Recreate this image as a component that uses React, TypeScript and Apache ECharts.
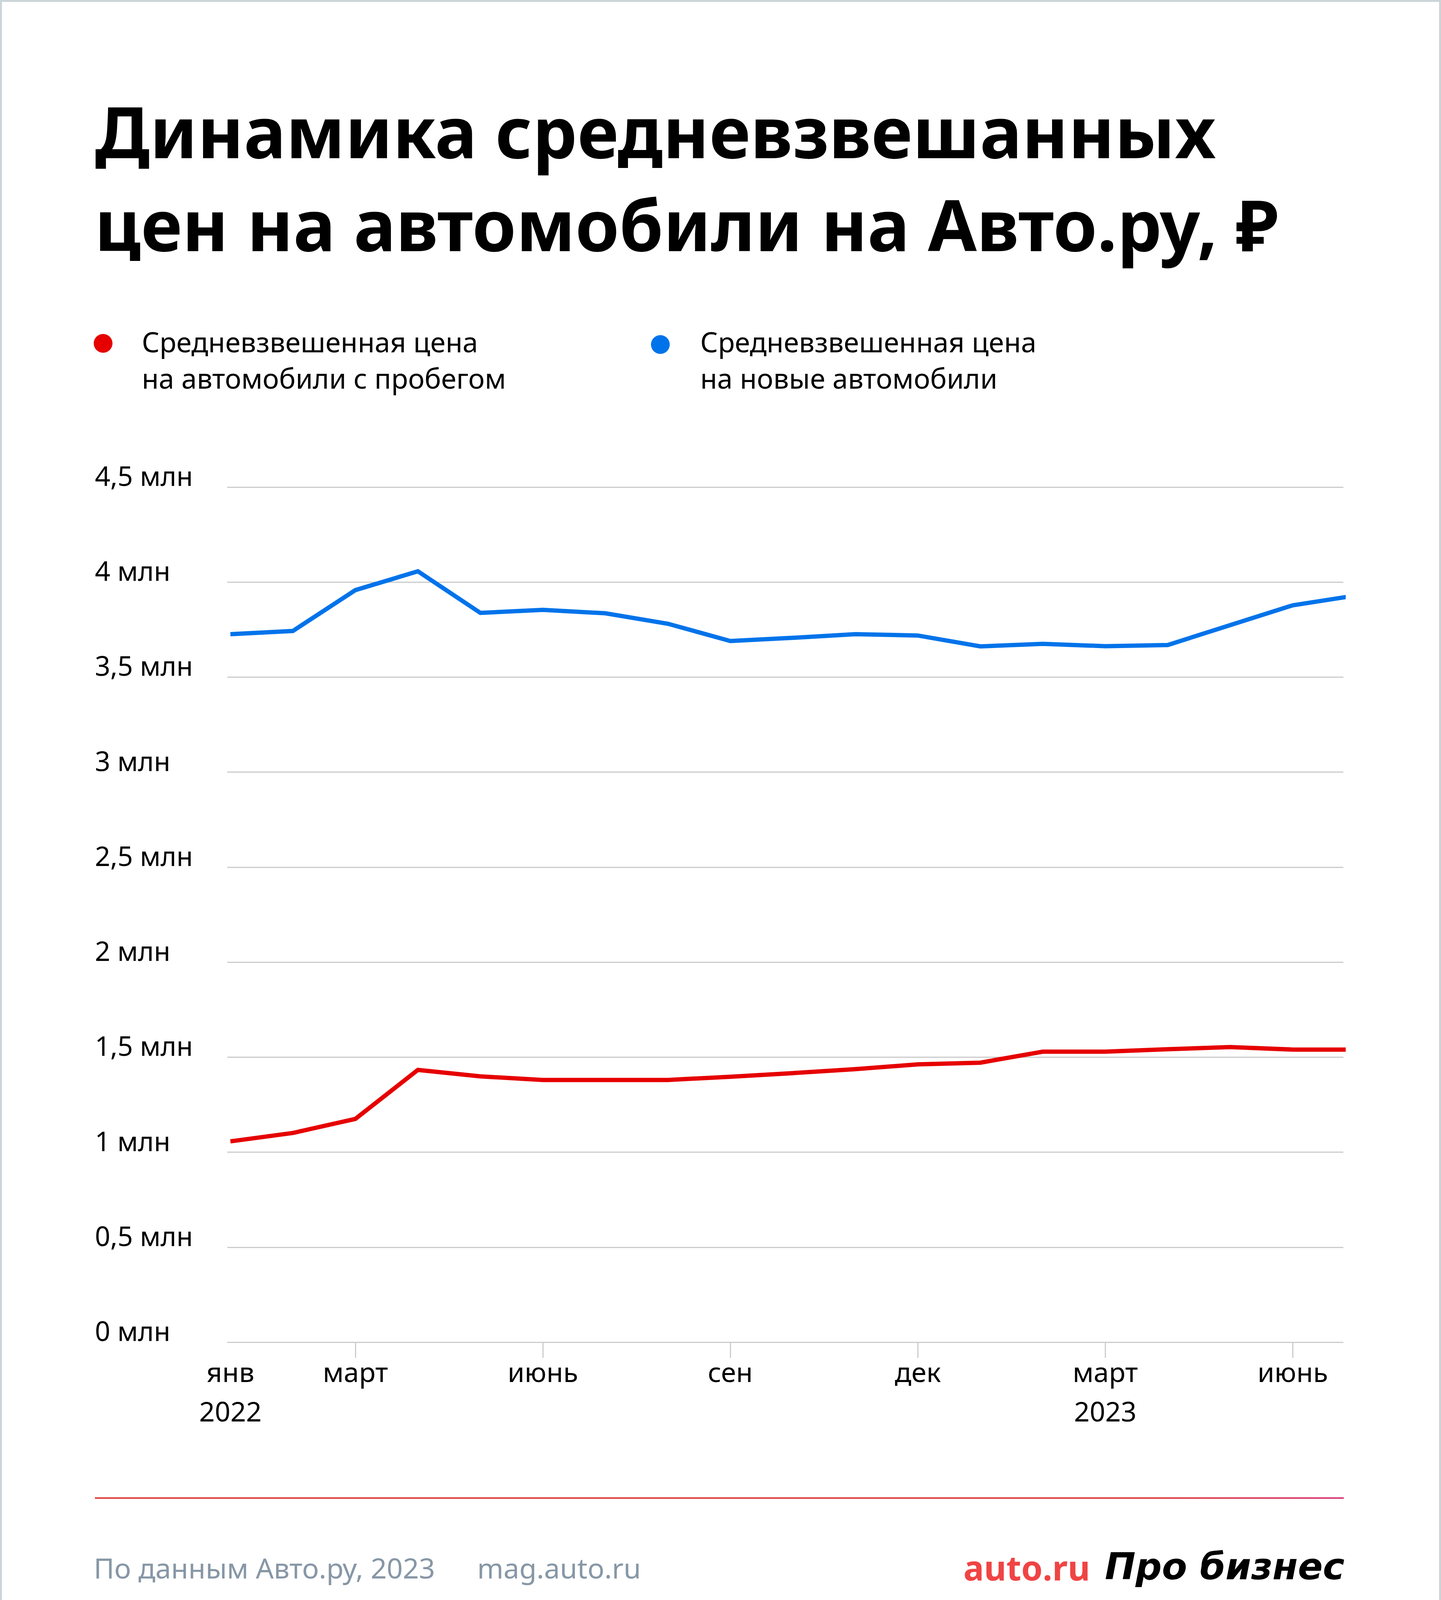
import React, { useEffect, useRef } from "react";
import * as echarts from "echarts";

// ---- Data ----
const months = [
  "2022-01", "2022-02", "2022-03", "2022-04", "2022-05", "2022-06", "2022-07",
  "2022-08", "2022-09", "2022-10", "2022-11", "2022-12", "2023-01", "2023-02",
  "2023-03", "2023-04", "2023-05", "2023-06", "2023-07",
];
// млн ₽, автомобили с пробегом
const usedPrices = [
  1.057, 1.101, 1.175, 1.433, 1.399, 1.38, 1.38, 1.38, 1.397, 1.416, 1.437,
  1.462, 1.471, 1.529, 1.529, 1.542, 1.553, 1.54, 1.54,
];
// млн ₽, новые автомобили
const newPrices = [
  3.726, 3.743, 3.958, 4.057, 3.838, 3.854, 3.836, 3.781, 3.69, 3.707, 3.726,
  3.719, 3.662, 3.675, 3.663, 3.669, 3.774, 3.878, 3.929,
];
const xLabelMonths = [0, 2, 5, 8, 11, 14, 17];
const xLabelTexts = ["янв\n2022", "март", "июнь", "сен", "дек", "март\n2023", "июнь"];
const xTickMonths = [2, 5, 8, 11, 14, 17];
const yUnit = "млн";

const titleLines = [
  "Динамика средневзвешанных",
  "цен на автомобили на Авто.ру, ₽",
];
const legendUsed = ["Средневзвешенная цена", "на автомобили с пробегом"];
const legendNew = ["Средневзвешенная цена", "на новые автомобили"];
const sourceText = "По данным Авто.ру, 2023";
const siteText = "mag.auto.ru";

const RED = "#e60000";
const BLUE = "#0073ea";
const FONT = "'Noto Sans', sans-serif";

function textEl(text: string, x: number, baseline: number, size: number, opts: any = {}) {
  return {
    type: "text",
    silent: true,
    style: {
      text,
      x,
      y: baseline - size * 0.388,
      fontSize: size,
      fontFamily: opts.family || FONT,
      fontWeight: opts.weight || 400,
      fontStyle: opts.style || "normal",
      fill: opts.fill || "#000",
      align: opts.align || "left",
      verticalAlign: "middle",
    },
  };
}

export default function App() {
  const ref = useRef<HTMLDivElement>(null);

  useEffect(() => {
    document.body.style.margin = "0";
    if (!ref.current) return;
    const chart = echarts.init(ref.current, null, { renderer: "svg" });

    const usedData = months.map((_, i) => [i, usedPrices[i]]);
    const newData = months.map((_, i) => [i, newPrices[i]]);

    const graphics: any[] = [
      {
        type: "rect",
        silent: true,
        shape: { x: 2.5, y: 2.5, width: 3685, height: 4330 },
        style: { fill: "none", stroke: "#cbd5d8", lineWidth: 5 },
      },
      textEl(titleLines[0], 243, 405, 181, { weight: 700 }),
      textEl(titleLines[1], 243, 643, 181, { weight: 700 }),
      { type: "circle", silent: true, shape: { cx: 264, cy: 879, r: 24 }, style: { fill: RED } },
      textEl(legendUsed[0], 363, 902, 71),
      textEl(legendUsed[1], 363, 995, 71),
      { type: "circle", silent: true, shape: { cx: 1691, cy: 882, r: 24 }, style: { fill: BLUE } },
      textEl(legendNew[0], 1793, 902, 71),
      textEl(legendNew[1], 1793, 995, 71),
      {
        type: "rect",
        silent: true,
        shape: { x: 243, y: 3833, width: 3198, height: 4 },
        style: {
          fill: new echarts.graphic.LinearGradient(0, 0, 1, 0, [
            { offset: 0, color: "#e0403c" },
            { offset: 0.85, color: "#e0403f" },
            { offset: 1, color: "#d83c78" },
          ]),
        },
      },
      textEl(sourceText, 240, 4041, 72, { fill: "#8797a6" }),
      textEl(siteText, 1222, 4041, 72, { fill: "#8797a6" }),
      textEl("auto.ru", 2467, 4046, 88, { weight: 700, fill: "#f04444" }),
      textEl("Про бизнес", 3443, 4047, 94, {
        weight: 700,
        style: "italic",
        family: "'DejaVu Sans', sans-serif",
        align: "right",
      }),
    ];

    chart.setOption({
      animation: false,
      backgroundColor: "#ffffff",
      grid: { left: 582, right: 250, top: 1247, bottom: 899, containLabel: false },
      xAxis: {
        type: "value",
        min: -0.05,
        max: 17.81,
        splitLine: { show: false },
        axisLine: { show: false },
        axisTick: {
          show: true,
          customValues: xTickMonths,
          length: 40,
          lineStyle: { color: "#cccccc", width: 3 },
        },
        axisLabel: {
          show: true,
          customValues: xLabelMonths,
          margin: 24,
          fontSize: 70,
          lineHeight: 101,
          fontFamily: FONT,
          color: "#000",
          formatter: (v: number) => {
            const k = xLabelMonths.indexOf(Math.round(v));
            return k >= 0 ? xLabelTexts[k] : "";
          },
        },
      },
      yAxis: {
        type: "value",
        min: 0,
        max: 4.5,
        interval: 0.5,
        axisLine: { show: false },
        axisTick: { show: false },
        splitLine: { show: true, lineStyle: { color: "#cccccc", width: 3 } },
        axisLabel: {
          align: "left",
          verticalAlign: "bottom",
          margin: 339,
          fontSize: 69,
          lineHeight: 60,
          fontFamily: FONT,
          color: "#000",
          formatter: (v: number) => `${String(v).replace(".", ",")} ${yUnit}`,
        },
      },
      series: [
        {
          type: "line",
          name: "Средневзвешенная цена на автомобили с пробегом",
          data: usedData,
          symbol: "none",
          lineStyle: { color: RED, width: 11, join: "miter" },
          clip: true,
        },
        {
          type: "line",
          name: "Средневзвешенная цена на новые автомобили",
          data: newData,
          symbol: "none",
          lineStyle: { color: BLUE, width: 11, join: "miter" },
          clip: true,
        },
      ],
      graphic: { elements: graphics },
    });

    return () => chart.dispose();
  }, []);

  return (
    <div
      ref={ref}
      style={{ position: "absolute", left: 0, top: 0, width: 3690, height: 4335 }}
    />
  );
}
